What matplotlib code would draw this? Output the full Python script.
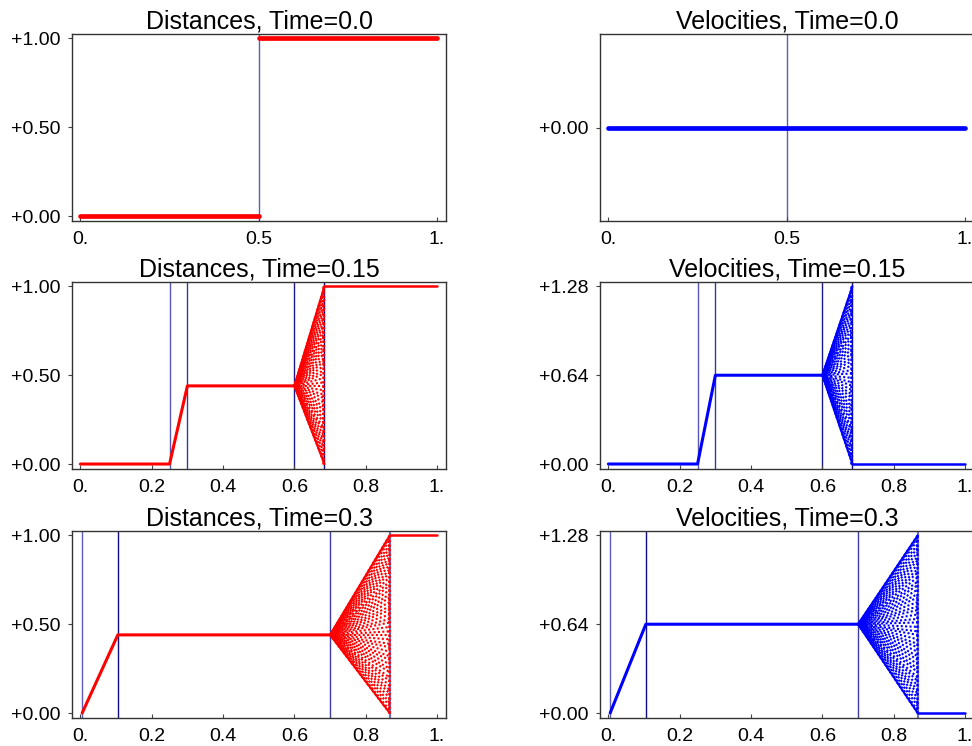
import matplotlib.pyplot as plt

plt.rcParams["font.family"] = ["Liberation Sans", "DejaVu Sans"]

# snapshot times and the shape of each profile
times = ["0.0", "0.15", "0.3"]
dist_plateau = 0.44
vel_plateau = 0.64
vel_max = 1.28

# main profile, left part (up to the fan) and right part (after the shock)
dist_left_x = [[0.0, 0.5], [0.0, 0.25, 0.30, 0.60], [0.005, 0.105, 0.70]]
dist_left_y = [[0.0, 0.0], [0.0, 0.0, 0.44, 0.44], [0.0, 0.44, 0.44]]
dist_right_x = [[0.5, 1.0], [0.684, 1.0], [0.867, 1.0]]
dist_right_y = [[1.0, 1.0], [1.0, 1.0], [1.0, 1.0]]

vel_left_x = [[0.0, 1.0], [0.0, 0.25, 0.30, 0.60], [0.005, 0.105, 0.70]]
vel_left_y = [[0.0, 0.0], [0.0, 0.0, 0.64, 0.64], [0.0, 0.64, 0.64]]
vel_right_x = [[], [0.684, 1.0], [0.867, 1.0]]
vel_right_y = [[], [0.0, 0.0], [0.0, 0.0]]

# spreading region: starts at the plateau end, opens up to the shock
fan_start = [None, 0.60, 0.70]
fan_end = [None, 0.684, 0.867]
fan_fracs = [0.0, 0.015, 0.04, 0.06, 0.085, 0.11, 0.13, 0.155, 0.18, 0.2,
             0.23, 0.25, 0.275, 0.3, 0.32, 0.345, 0.37, 0.39, 0.415, 0.44,
             0.46, 0.485, 0.51, 0.53, 0.555, 0.58, 0.6, 0.625, 0.65, 0.67,
             0.695, 0.72, 0.74, 0.765, 0.79, 0.81, 0.835, 0.86, 0.88, 0.905,
             0.93, 0.95, 0.975, 0.99, 1.0]
fan_offsets = [0.0, 1.3, 0.6, 2.0, 0.9, 1.7, 0.3, 1.1, 2.2, 0.5, 1.5, 0.8]

# vertical marker lines and their shades
guide_x = [[0.5], [0.25, 0.30, 0.60, 0.684], [0.005, 0.105, 0.70, 0.867]]
guide_c = [["#5c5cb8"],
           ["#5858b4", "#3838a0", "#1a1a8a", "#0c0c80"],
           ["#5c5cb8", "#0c0c80", "#3c3ca4", "#7070c0"]]
guide_w = [[1.0], [1.0, 1.0, 1.0, 1.0], [1.0, 1.0, 1.0, 1.6]]

W, H = 972, 746
fig = plt.figure(figsize=(W / 100, H / 100), dpi=100)

col_left = [72, 600]
col_w = 374
row_top = [34, 282, 531]
row_h = 187

x_lim = (-0.0235, 1.025)


def style_axes(ax, xt, xl, yt, yl, ylim):
    ax.set_xlim(*x_lim)
    ax.set_ylim(*ylim)
    ax.set_xticks(xt)
    ax.set_xticklabels(xl)
    ax.set_yticks(yt)
    ax.set_yticklabels(yl)
    ax.tick_params(axis="x", direction="in", length=3, width=0.8,
                   labelsize=14, pad=7, color="#444444")
    ax.tick_params(axis="y", direction="out", length=3, width=0.8,
                   labelsize=14, pad=5, color="#444444")
    for s in ax.spines.values():
        s.set_color("#333333")
        s.set_linewidth(1.0)


for r in range(3):
    for c in range(2):
        left = col_left[c] / W
        bottom = 1 - (row_top[r] + row_h) / H
        ax = fig.add_axes([left, bottom, col_w / W, row_h / H])

        if c == 0:
            color = "red"
            name = "Distances"
            lx, ly = dist_left_x[r], dist_left_y[r]
            rx, ry = dist_right_x[r], dist_right_y[r]
            top, plateau = 1.0, dist_plateau
            ylim = (-0.028, 1.025)
            yt = [0.0, 0.5, 1.0]
        else:
            color = "blue"
            name = "Velocities"
            lx, ly = vel_left_x[r], vel_left_y[r]
            rx, ry = vel_right_x[r], vel_right_y[r]
            top, plateau = vel_max, vel_plateau
            if r == 0:
                ylim = (-1.0, 1.0)
                yt = [0.0]
            else:
                ylim = (-0.036, 1.312)
                yt = [0.0, vel_plateau, vel_max]

        for gx, gc, gw in zip(guide_x[r], guide_c[r], guide_w[r]):
            ax.axvline(gx, color=gc, lw=gw, zorder=1)

        lw = 3.4 if r == 0 else 2.2
        ax.plot(lx, ly, color=color, lw=lw, solid_capstyle="round",
                solid_joinstyle="round", zorder=3)
        if rx:
            ax.plot(rx, ry, color=color, lw=lw if r == 0 else 1.8,
                    solid_capstyle="round", zorder=3)

        if fan_start[r] is not None:
            x0, x1 = fan_start[r], fan_end[r]
            # outer edges of the fan
            ax.plot([x0, x1], [plateau, top], color=color, lw=1.4, zorder=2)
            ax.plot([x0, x1], [plateau, 0.0], color=color, lw=1.4, zorder=2)
            # short flare where the plateau opens into the fan
            ax.fill([x0 - 0.004, x0 + 0.012, x0 + 0.012],
                    [plateau, plateau + 0.035 * top, plateau - 0.035 * top],
                    color=color, lw=0, zorder=2)
            for i, f in enumerate(fan_fracs):
                off = fan_offsets[i % len(fan_offsets)]
                ax.plot([x0, x1], [plateau, f * top], color=color, lw=1.5,
                        ls=(off, (1.0, 1.1)), zorder=2)
            ax.plot([x1 - 0.003, x1 - 0.003], [0.0, top], color=color,
                    lw=1.8, ls=(0, (1.0, 0.8)), zorder=2)

        if r == 0:
            xt, xl = [0.0, 0.5, 1.0], ["0.", "0.5", "1."]
        else:
            xt = [0.0, 0.2, 0.4, 0.6, 0.8, 1.0]
            xl = ["0.", "0.2", "0.4", "0.6", "0.8", "1."]
        style_axes(ax, xt, xl, yt, ["+%.2f" % v for v in yt], ylim)
        ax.set_title("%s, Time=%s" % (name, times[r]), fontsize=18, pad=4)

fig.savefig("out.png", dpi=100)
